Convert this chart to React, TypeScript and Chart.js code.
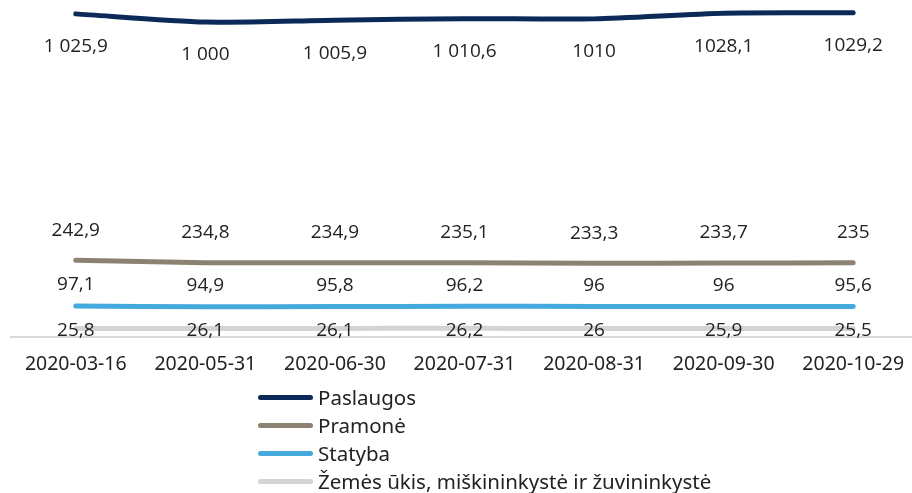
import React, { useEffect, useRef } from "react";
import { Chart, registerables } from "chart.js";

Chart.register(...registerables);

const categories = ["2020-03-16", "2020-05-31", "2020-06-30", "2020-07-31", "2020-08-31", "2020-09-30", "2020-10-29"];
const paslaugos = [1025.9, 1000, 1005.9, 1010.6, 1010, 1028.1, 1029.2];
const paslaugosLabels = ["1 025,9", "1 000", "1 005,9", "1 010,6", "1010", "1028,1", "1029,2"];
const pramone = [242.9, 234.8, 234.9, 235.1, 233.3, 233.7, 235];
const statyba = [97.1, 94.9, 95.8, 96.2, 96, 96, 95.6];
const zemes = [25.8, 26.1, 26.1, 26.2, 26, 25.9, 25.5];
const seriesNames = ["Paslaugos", "Pramonė", "Statyba", "Žemės ūkis, miškininkystė ir žuvininkystė"];
const colors = ["#0c2a57", "#8c8271", "#44a9dc", "#d4d4d4"];
const labelOffsets = [33, -30, -21, 2];

const fmt = (v: number) => String(v).replace(".", ",");

const dataLabelPlugin = {
  id: "dataLabels",
  afterDatasetsDraw(chart: any) {
    const ctx = chart.ctx;
    ctx.save();
    ctx.font = "19px 'Open Sans'";
    ctx.fillStyle = "#222222";
    ctx.textAlign = "center";
    ctx.textBaseline = "middle";
    chart.data.datasets.forEach((ds: any, i: number) => {
      const meta = chart.getDatasetMeta(i);
      meta.data.forEach((pt: any, j: number) => {
        const text = ds.labelsText ? ds.labelsText[j] : fmt(ds.data[j]);
        ctx.fillText(text, pt.x, pt.y + labelOffsets[i]);
      });
    });
    ctx.restore();
  },
};

export default function App() {
  const ref = useRef<HTMLCanvasElement>(null);
  useEffect(() => {
    document.body.style.margin = "0";
    document.body.style.overflow = "hidden";
    const allData = [paslaugos, pramone, statyba, zemes];
    const chart = new Chart(ref.current!, {
      type: "line",
      data: {
        labels: categories,
        datasets: allData.map((d, i) => ({
          label: seriesNames[i],
          data: d,
          borderColor: colors[i],
          backgroundColor: colors[i],
          borderWidth: 5,
          pointRadius: 0,
          tension: 0.25,
          borderCapStyle: "round",
          labelsText: i === 0 ? paslaugosLabels : undefined,
        })) as any,
      },
      options: {
        animation: false,
        responsive: false,
        layout: { padding: { left: 11, right: 0, top: 0, bottom: 13 } },
        plugins: { legend: { display: false }, tooltip: { enabled: false } },
        scales: {
          y: { display: false, min: 0, max: 1070 },
          x: {
            offset: true,
            grid: { display: false },
            border: { color: "#d9d9d9", width: 2 },
            ticks: { color: "#222222", font: { family: "'Noto Sans'", size: 19.5 }, padding: 8, maxRotation: 0 },
          },
        },
      },
      plugins: [dataLabelPlugin],
    });
    return () => chart.destroy();
  }, []);

  return (
    <div style={{ position: "relative", width: 912, height: 493, overflow: "hidden" }}>
      <canvas ref={ref} width={918} height={397} style={{ position: "absolute", left: 0, top: 0 }} />
      <div style={{ position: "absolute", left: 258, top: 383 }}>
        {seriesNames.map((n, i) => (
          <div key={n} style={{ display: "flex", alignItems: "center", height: 28 }}>
            <div style={{ width: 55, height: 5, borderRadius: 3, background: colors[i], marginRight: 5 }} />
            <span style={{ fontFamily: "'Noto Sans'", fontSize: 20.5, color: "#222222", lineHeight: "28px" }}>{n}</span>
          </div>
        ))}
      </div>
    </div>
  );
}
